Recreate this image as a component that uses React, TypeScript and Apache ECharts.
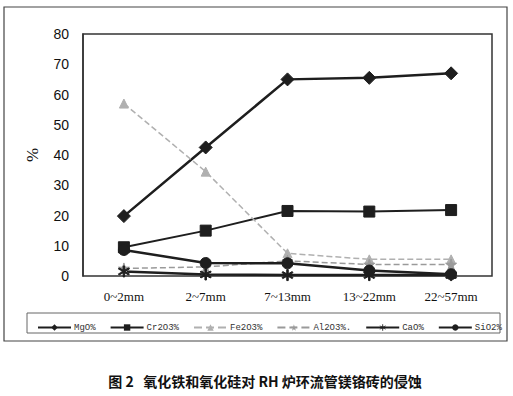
import React, { useEffect, useRef } from "react";
import * as echarts from "echarts";

const categories = ["0~2mm", "2~7mm", "7~13mm", "13~22mm", "22~57mm"];
const seriesNames = ["MgO%", "Cr2O3%", "Fe2O3%", "Al2O3%.", "CaO%", "SiO2%"];
const mgo = [19.8, 42.5, 65, 65.5, 67];
const cr2o3 = [9.5, 15, 21.5, 21.3, 21.8];
const fe2o3 = [57, 34.5, 7.5, 5.5, 5.5];
const al2o3 = [2.5, 3, 5, 3.8, 3.8];
const cao = [1.5, 0.5, 0.3, 0.3, 0.3];
const sio2 = [8.6, 4.3, 4.2, 1.8, 0.6];
const yTicks = { min: 0, max: 80, interval: 10 };

const starPath =
  "path://M50,0 L61,35 L98,35 L68,57 L79,91 L50,70 L21,91 L32,57 L2,35 L39,35 Z";
const asteriskPath =
  "path://M44,0 L56,0 L56,38 L88,18 L94,28 L62,46 L62,54 L94,72 L88,82 L56,62 L56,100 L44,100 L44,62 L12,82 L6,72 L38,54 L38,46 L6,28 L12,18 L44,38 Z";

export default function App() {
  const ref = useRef<HTMLDivElement>(null);
  useEffect(() => {
    const chart = echarts.init(ref.current!, null, { renderer: "svg" });
    const dark = "#1e1e1e";
    const mk = (
      name: string,
      data: number[],
      symbol: string,
      size: number,
      color: string,
      width: number,
      type: any = "solid"
    ) => ({
      name,
      type: "line",
      data,
      symbol,
      symbolSize: size,
      lineStyle: { color, width, type },
      itemStyle: { color, borderColor: color },
      z: 3,
    });
    chart.setOption({
      animation: false,
      backgroundColor: "#fff",
      grid: { left: 83, right: 21, top: 34, bottom: 120, show: true, borderColor: "#333", borderWidth: 1.5, backgroundColor: "transparent" },
      xAxis: {
        type: "category",
        data: categories,
        boundaryGap: true,
        axisLine: { show: false },
        axisTick: { show: false },
        axisLabel: { color: "#111", fontFamily: "Liberation Serif", fontSize: 13, margin: 14 },
      },
      yAxis: {
        type: "value",
        min: yTicks.min,
        max: yTicks.max,
        interval: yTicks.interval,
        splitLine: { show: false },
        axisLine: { show: true, lineStyle: { color: "#333", width: 1.5 } },
        axisTick: { show: false },
        axisLabel: { color: "#111", fontFamily: "Liberation Sans", fontSize: 14, margin: 14 },
        name: "%",
        nameLocation: "middle",
        nameGap: 42,
        nameRotate: 90,
        nameTextStyle: { color: "#111", fontSize: 17, fontFamily: "Liberation Serif" },
      },
      legend: {
        left: 32,
        top: 318,
        itemGap: 14,
        itemWidth: 33,
        itemHeight: 8,
        textStyle: { color: "#333", fontSize: 9, fontFamily: "Liberation Mono", padding: [0, 0, 0, -2] },
        data: seriesNames,
      },
      graphic: [
        { type: "rect", shape: { x: 4, y: 7, width: 503, height: 334 }, style: { fill: "none", stroke: "#444", lineWidth: 1.2 }, silent: true },
        { type: "rect", shape: { x: 27, y: 313, width: 473, height: 20 }, style: { fill: "none", stroke: "#666", lineWidth: 1 }, silent: true },
        {
          type: "text",
          x: 265,
          y: 381,
          style: {
            text: "图 2   氧化铁和氧化硅对 RH 炉环流管镁铬砖的侵蚀",
            fill: "#111",
            font: "bold 14px 'Noto Sans CJK SC'",
            textAlign: "center",
            textVerticalAlign: "middle",
          },
        },
      ],
      series: [
        mk(seriesNames[0], mgo, "diamond", 13, dark, 2.5),
        mk(seriesNames[1], cr2o3, "rect", 11, dark, 2),
        mk(seriesNames[2], fe2o3, "triangle", 9, "#b0b0b0", 1.5, "dashed"),
        mk(seriesNames[3], al2o3, starPath, 11, "#9a9a9a", 1.5, "dashed"),
        mk(seriesNames[4], cao, asteriskPath, 11, dark, 2.5),
        mk(seriesNames[5], sio2, "circle", 11, dark, 2.5),
      ],
    });
    return () => chart.dispose();
  }, []);
  return <div ref={ref} style={{ position: "fixed", left: 0, top: 0, width: 513, height: 396 }} />;
}
